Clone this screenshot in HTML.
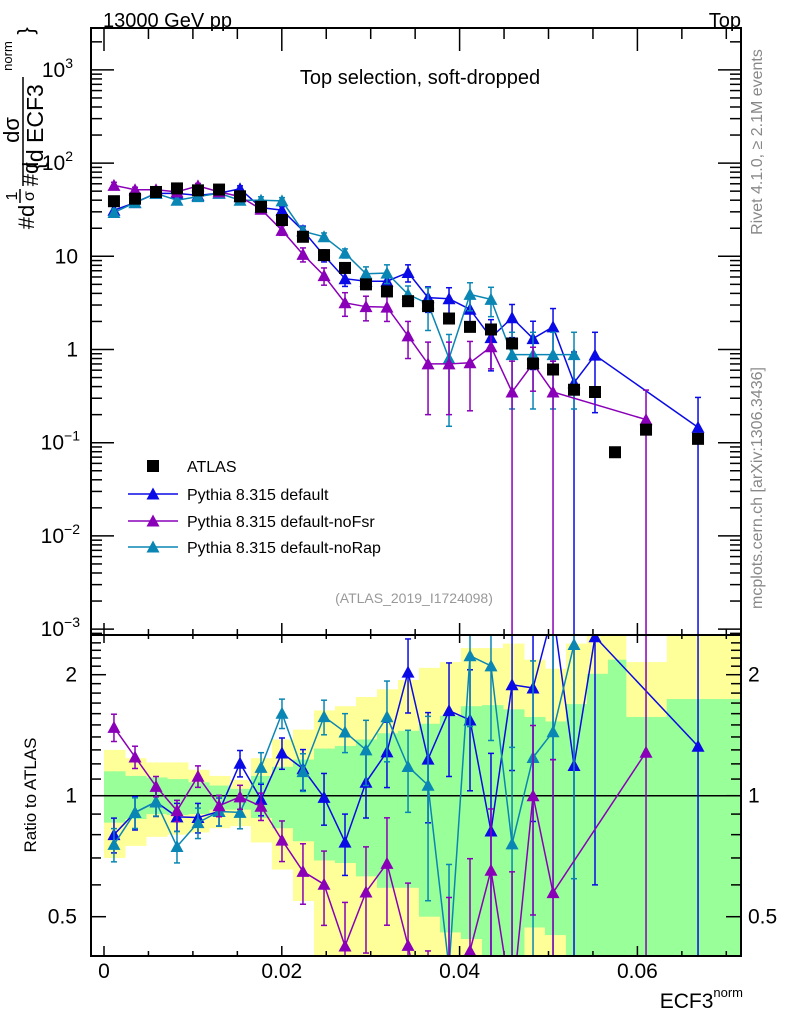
<!DOCTYPE html>
<html><head><meta charset="utf-8"><style>
html,body{margin:0;padding:0;background:#fff;width:786px;height:1024px;overflow:hidden;}
svg{display:block;font-family:"Liberation Sans",sans-serif;overflow:hidden;}
</style></head><body>
<svg id="chart" xmlns="http://www.w3.org/2000/svg" width="786" height="1024" viewBox="0 0 786 1024">
<defs>
<clipPath id="clipMain"><rect x="91" y="28" width="650" height="607"/></clipPath>
<clipPath id="clipRatio"><rect x="91" y="635" width="650" height="321"/></clipPath>
</defs>
<g id="bands" clip-path="url(#clipRatio)"></g>
<g id="ticks"></g>
<g id="mainMarks" clip-path="url(#clipMain)"></g>
<g id="ratioMarks" clip-path="url(#clipRatio)"></g>
<rect x="91" y="28" width="650" height="607" fill="none" stroke="#000" stroke-width="2"/>
<rect x="91" y="635" width="650" height="321" fill="none" stroke="#000" stroke-width="2"/>
<g id="labels" font-size="21" fill="#000"></g>
<text x="103" y="27" font-size="20">13000 GeV pp</text>
<text x="741" y="27" font-size="20" text-anchor="end">Top</text>
<text x="420" y="84" font-size="20" text-anchor="middle">Top selection, soft-dropped</text>
<text x="414" y="603" font-size="14" fill="#999" text-anchor="middle">(ATLAS_2019_I1724098)</text>
<text transform="translate(762,142) rotate(-90)" font-size="16" fill="#888" text-anchor="middle">Rivet 4.1.0, ≥ 2.1M events</text>
<text transform="translate(762,488) rotate(-90)" font-size="16" fill="#888" text-anchor="middle">mcplots.cern.ch [arXiv:1306.3436]</text>
<text transform="translate(36,795) rotate(-90)" font-size="17" text-anchor="middle">Ratio to ATLAS</text>
<g>
<text transform="translate(34,217) rotate(-90)" font-size="22" text-anchor="middle">#d</text>
<text transform="translate(17,196) rotate(-90)" font-size="16" text-anchor="middle">1</text>
<line x1="20" y1="189" x2="20" y2="203" stroke="#000" stroke-width="1.5"/>
<text transform="translate(34,196) rotate(-90)" font-size="16" text-anchor="middle">σ</text>
<text transform="translate(38,174) rotate(-90)" font-size="22" text-anchor="middle">#d</text>
<text transform="translate(19,130) rotate(-90)" font-size="22" text-anchor="middle">dσ</text>
<line x1="23" y1="77" x2="23" y2="186" stroke="#000" stroke-width="1.5"/>
<text transform="translate(43,127) rotate(-90)" font-size="23" text-anchor="middle">{d ECF3</text>
<text transform="translate(12,56) rotate(-90)" font-size="13" text-anchor="middle">norm</text>
<text transform="translate(33,31) rotate(-90)" font-size="22" text-anchor="middle">}</text>
</g>
<text x="743" y="1008" font-size="21" text-anchor="end">ECF3<tspan font-size="13" dy="-11">norm</tspan></text>
<g id="legend" font-size="16"></g>
</svg>
<script>
// ---- data ----
const binCenters = [0.00112,0.00349,0.00585,0.00821,0.01057,0.01294,0.0153,0.01766,0.02002,0.02238,0.02475,0.02711,0.02947,0.03183,0.0342,0.03645,0.03881,0.04117,0.04353,0.0459,0.04826,0.05051,0.05287,0.05523,0.05748,0.06097,0.06682];
const binEdges = [0,0.00236,0.00472,0.00709,0.00945,0.01181,0.01417,0.01653,0.0189,0.02126,0.02362,0.02598,0.02834,0.03071,0.03307,0.03543,0.03779,0.04015,0.04252,0.04488,0.04724,0.0496,0.05196,0.05432,0.05669,0.0587,0.0633,0.0717];
const atlasVals = [39,41.5,49,53.5,51,52,44,34,24.5,16.2,10.3,7.5,5.0,4.2,3.3,2.92,2.15,1.75,1.64,1.16,0.707,0.61,0.37,0.35,0.079,0.138,0.11];
const atlasErr = [0.8,0.8,0.8,0.8,0.8,0.8,0.8,0.6,0.5,0.4,0.3,0.2,0.15,0.12,0.1,0.08,0.06,0.05,0.05,0.03,0.02,0.02,0.01,0.01,0.002,0.004,0.003];
const defaultVals = [31.2,37.7,47.3,47.4,45,47.5,53,33.3,31.3,18.9,10.2,5.75,5.4,5.4,6.7,3.6,3.5,2.7,1.34,2.19,1.31,1.75,0.44,0.87,null,null,0.146];
const defaultErr = [3.1,3.6,3.8,3.8,3.8,3.8,4.0,3.0,2.8,2.2,1.5,1.0,1.0,1.0,1.4,1.1,1.1,0.9,0.75,0.85,0.7,1.0,0.5,0.66,null,null,0.16];
const noFsrVals = [57.7,51.8,51.7,49.1,57,49.1,43.7,32,19,10.5,6.2,3.17,2.88,2.85,1.4,0.70,0.70,0.72,1.07,0.35,0.707,0.35,null,null,null,0.177,null];
const noFsrErr = [4.5,3.3,3.0,3.0,3.5,3.0,3.0,2.5,2.2,1.8,1.3,0.9,0.85,0.85,0.6,0.5,0.5,0.5,0.45,0.4,0.35,0.4,null,null,null,0.19,null];
const noRapVals = [29.5,37.7,47.3,40,43.7,47.5,40,40,39.3,18.6,16.2,10.8,6.5,6.6,3.9,3.1,0.8,3.9,3.45,0.88,0.88,0.88,0.88,null,null,null,null];
const noRapErr = [2.8,3.3,3.7,3.6,3.8,3.8,3.6,3.5,3.3,2.0,1.6,1.2,1.2,1.5,0.9,1.5,0.65,1.3,1.2,0.65,0.65,0.65,0.65,null,null,null,null];
const yellowUp = [1.30,1.24,1.21,1.21,1.16,1.12,1.095,1.24,1.38,1.46,1.63,1.67,1.76,1.84,1.94,2.08,2.15,2.33,2.33,2.39,2.18,2.07,2.39,3,3,2.15,3];
const yellowDn = [0.70,0.75,0.79,0.80,0.81,0.83,0.84,0.765,0.655,0.547,0.3,0.3,0.3,0.3,0.3,0.3,0.3,0.3,0.3,0.3,0.3,0.3,0.3,0.3,0.3,0.435,0.3];
const greenUp = [1.15,1.12,1.11,1.10,1.08,1.06,1.04,1.12,1.18,1.23,1.31,1.33,1.38,1.43,1.45,1.51,1.58,1.67,1.68,1.64,1.57,1.53,1.69,2.01,2.18,1.57,1.74];
const greenDn = [0.857,0.875,0.90,0.895,0.90,0.923,0.923,0.88,0.83,0.77,0.69,0.68,0.63,0.59,0.59,0.50,0.457,0.44,0.3,0.3,0.47,0.45,0.3,0.3,0.3,0.3,0.3];
const xTickLabels = ["0","0.02","0.04","0.06"];
const xTickVals = [0,0.02,0.04,0.06];
const ratioTickVals = [0.5,1,2];
const ratioTickLabels = ["0.5","1","2"];
const legendLabels = ["ATLAS","Pythia 8.315 default","Pythia 8.315 default-noFsr","Pythia 8.315 default-noRap"];

// ---- axes ----
const NS = "http://www.w3.org/2000/svg";
const X = v => 104 + v * 8890;
const YM = v => v > 0 ? Math.min(349.5 - 93.2 * Math.log10(v), 660) : 660;
const YR = r => r > 0 ? Math.min(Math.max(795.7 - 121 * Math.log2(r), 610), 980) : 980;
function mk(parent, tag, attrs) {
  const el = document.createElementNS(NS, tag);
  for (const k in attrs) el.setAttribute(k, attrs[k]);
  parent.appendChild(el);
  return el;
}
const gBands = document.getElementById('bands');
const gTicks = document.getElementById('ticks');
const gMain = document.getElementById('mainMarks');
const gRatio = document.getElementById('ratioMarks');
const gLab = document.getElementById('labels');
const gLeg = document.getElementById('legend');

for (let i = 0; i < binCenters.length; i++) {
  const x0 = X(binEdges[i]), x1 = X(binEdges[i + 1]);
  const y = mk(gBands, 'rect', {x: x0, y: YR(yellowUp[i]), width: x1 - x0 + 0.5, height: YR(yellowDn[i]) - YR(yellowUp[i]), fill: '#ffff99'});
  
  
}
for (let i = 0; i < binCenters.length; i++) {
  const x0 = X(binEdges[i]), x1 = X(binEdges[i + 1]);
  const g = mk(gBands, 'rect', {x: x0, y: YR(greenUp[i]), width: x1 - x0 + 0.5, height: YR(greenDn[i]) - YR(greenUp[i]), fill: '#99ff99'});
  
  
}
const one = mk(gBands, 'line', {x1: 91, x2: 741, y1: YR(1), y2: YR(1), stroke: '#000', 'stroke-width': 1.5});



function tick(x1, y1, x2, y2) { mk(gTicks, 'line', {x1, y1, x2, y2, stroke: '#000', 'stroke-width': 1.5}); }
for (let e = -4; e <= 3; e++) {
  for (let m = 1; m <= 9; m++) {
    const v = m * Math.pow(10, e);
    const y = 349.5 - 93.2 * Math.log10(v);
    if (y < 29 || y > 634) continue;
    const L = m === 1 ? 23 : 11;
    tick(91, y, 91 + L, y); tick(741, y, 741 - L, y);
  }
}
for (let k = 0; k <= 14; k++) {
  const v = k * 0.005, x = X(v);
  if (x > 740) continue;
  const major = k % 4 === 0;
  tick(x, 28, x, 28 + (major ? 23 : 11));
  tick(x, 635, x, 635 - (major ? 12 : 6));
  tick(x, 635, x, 635 + (major ? 8 : 4));
  tick(x, 956, x, 956 - (major ? 10 : 5));
}
for (let k = 4; k <= 25; k++) {
  const r = k / 10;
  const y = YR(r);
  if (y < 636 || y > 955) continue;
  const major = (k === 5 || k === 10 || k === 20);
  const L = major ? 15 : 10;
  tick(91, y, 91 + L, y); tick(741, y, 741 - L, y);
}

for (let e = -3; e <= 3; e++) {
  const y = 349.5 - 93.2 * e + 7;
  let t;
  if (e === 0) { t = mk(gLab, 'text', {x: 78, y, 'text-anchor': 'end'}); t.textContent = '1'; }
  else if (e === 1) { t = mk(gLab, 'text', {x: 78, y, 'text-anchor': 'end'}); t.textContent = '10'; }
  else {
    t = mk(gLab, 'text', {x: e < 0 ? 80 : 73, y, 'text-anchor': 'end'});
    const a = document.createElementNS(NS, 'tspan'); a.textContent = '10'; t.appendChild(a);
    const b = document.createElementNS(NS, 'tspan'); b.setAttribute('dy', -9); b.setAttribute('font-size', 14); b.textContent = e < 0 ? '\u2212' + (-e) : String(e); t.appendChild(b);
  }
  
  
}
for (let i = 0; i < xTickVals.length; i++) {
  const t = mk(gLab, 'text', {x: X(xTickVals[i]), y: 978, 'text-anchor': 'middle'});
  t.textContent = xTickLabels[i];
  
  
}
for (let i = 0; i < ratioTickVals.length; i++) {
  const y = YR(ratioTickVals[i]) + 7;
  const t = mk(gLab, 'text', {x: 77, y, 'text-anchor': 'end'});
  t.textContent = ratioTickLabels[i];
  
  
  const t2 = mk(gLab, 'text', {x: 748, y, 'text-anchor': 'start'});
  t2.textContent = ratioTickLabels[i];
  
  
}

function tri(parent, x, y, color) {
  return mk(parent, 'polygon', {points: `${x - 6.5},${y + 5.5} ${x + 6.5},${y + 5.5} ${x},${y - 6.5}`, fill: color});
}
function errBar(parent, x, y1, y2, color) {
  mk(parent, 'line', {x1: x, x2: x, y1, y2, stroke: color, 'stroke-width': 1.5});
  mk(parent, 'line', {x1: x - 3, x2: x + 3, y1, y2: y1, stroke: color, 'stroke-width': 1.5});
  mk(parent, 'line', {x1: x - 3, x2: x + 3, y1: y2, y2: y2, stroke: color, 'stroke-width': 1.5});
}
function drawSeries(vals, errs, color, name) {
  const gm = mk(gMain, 'g', {});
  
  
  const gr = mk(gRatio, 'g', {});
  
  
  let pm = [], pr = [];
  const YRu = r => 795.7 - 121 * Math.log2(r);
  for (let i = 0; i < vals.length; i++) {
    if (vals[i] == null) continue;
    pm.push(X(binCenters[i]) + ',' + YM(vals[i]));
    pr.push(X(binCenters[i]) + ',' + YRu(vals[i] / atlasVals[i]));
  }
  mk(gm, 'polyline', {points: pm.join(' '), fill: 'none', stroke: color, 'stroke-width': 1.5});
  mk(gr, 'polyline', {points: pr.join(' '), fill: 'none', stroke: color, 'stroke-width': 1.5});
  for (let i = 0; i < vals.length; i++) {
    if (vals[i] == null) continue;
    const x = X(binCenters[i]), v = vals[i], e = errs[i], a = atlasVals[i];
    errBar(gm, x, YM(v + e), YM(v - e), color);
    errBar(gr, x, YR((v + e) / a), YR((v - e) / a), color);
    const m1 = tri(gm, x, YM(v), color);
    
    
    const m2 = tri(gr, x, YR(v / a), color);
    
    
  }
}
drawSeries(defaultVals, defaultErr, '#0a0ae6', 'pythia-default');
drawSeries(noRapVals, noRapErr, '#0a86b4', 'pythia-norap');
drawSeries(noFsrVals, noFsrErr, '#8a00b8', 'pythia-nofsr');
for (let i = 0; i < atlasVals.length; i++) {
  const x = X(binCenters[i]), v = atlasVals[i];
  const s = mk(gMain, 'rect', {x: x - 6, y: YM(v) - 6, width: 12, height: 12, fill: '#000'});
  
  
  mk(gMain, 'line', {x1: x, x2: x, y1: YM(v + atlasErr[i]), y2: YM(v - atlasErr[i]), stroke: '#000', 'stroke-width': 1.5});
}

const legColors = ['#000', '#0a0ae6', '#8a00b8', '#0a86b4'];
const legY = [466, 494, 521, 547];
for (let i = 0; i < legendLabels.length; i++) {
  const g = mk(gLeg, 'g', {});
  
  
  if (i === 0) {
    mk(g, 'rect', {x: 147, y: legY[i] - 6, width: 12, height: 12, fill: '#000'});
  } else {
    mk(g, 'line', {x1: 128, x2: 178, y1: legY[i], y2: legY[i], stroke: legColors[i], 'stroke-width': 1.5});
    tri(g, 153, legY[i], legColors[i]);
  }
  const t = mk(g, 'text', {x: 187, y: legY[i] + 6});
  t.textContent = legendLabels[i];
}
</script>
</body></html>
